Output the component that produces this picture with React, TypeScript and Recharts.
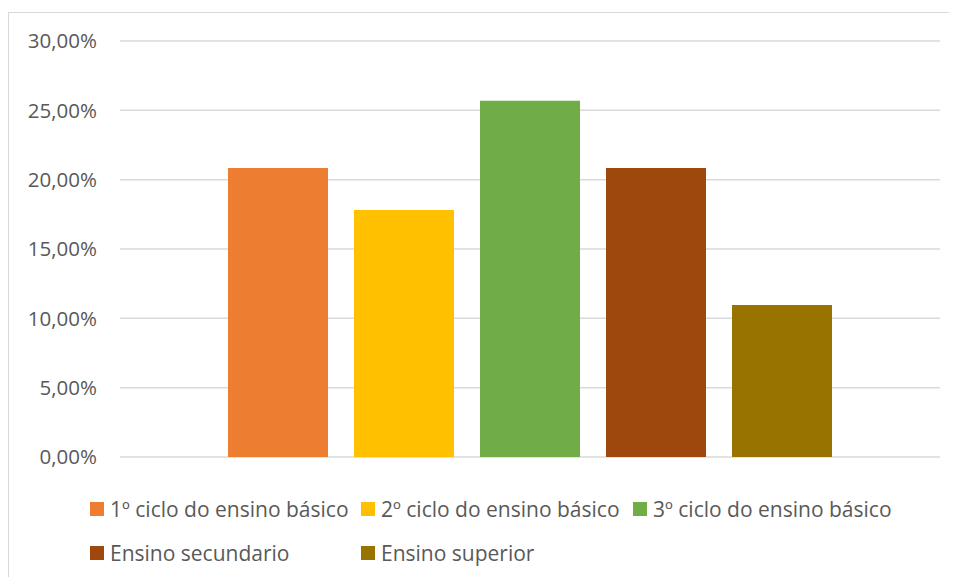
import React from "react";
import { BarChart, Bar, XAxis, YAxis, CartesianGrid } from "recharts";

const seriesNames = [
  "1º ciclo do ensino básico",
  "2º ciclo do ensino básico",
  "3º ciclo do ensino básico",
  "Ensino secundario",
  "Ensino superior",
];
const seriesValues = [20.85, 17.82, 25.69, 20.85, 10.96];
const seriesColors = ["#ED7D31", "#FFC000", "#70AD47", "#9E480E", "#997300"];
const yTicks = [0, 5, 10, 15, 20, 25, 30];

const row: Record<string, number | string> = { name: "total" };
seriesNames.forEach((n, i) => {
  row[n] = seriesValues[i];
});
const data = [row];

const FONT = "'Open Sans', sans-serif";
const TEXT = "#595959";

const fmt = (v: number) => v.toFixed(2).replace(".", ",") + "%";

const LegendBox = () => (
  <div
    style={{
      position: "absolute",
      left: 82,
      top: 475,
      display: "grid",
      gridTemplateColumns: "271px 272px auto",
      gridAutoRows: 44,
      fontFamily: FONT,
      fontSize: 21,
      color: TEXT,
    }}
  >
    {seriesNames.map((n, i) => (
      <div key={n} style={{ display: "flex", alignItems: "center", whiteSpace: "nowrap" }}>
        <span
          style={{
            display: "inline-block",
            width: 14,
            height: 14,
            background: seriesColors[i],
            marginRight: 6,
          }}
        />
        <span>{n}</span>
      </div>
    ))}
  </div>
);

export default function App() {
  return (
    <div style={{ position: "relative", width: 949, height: 565, marginTop: 4, overflow: "hidden" }}>
      <div
        style={{
          position: "absolute",
          left: 0,
          top: 0,
          width: 980,
          height: 600,
          boxSizing: "border-box",
          borderTop: "1px solid #D9D9D9",
          borderLeft: "1px solid #D9D9D9",
        }}
      />
      <div style={{ position: "absolute", left: 0, top: 0 }}>
        <BarChart
          width={949}
          height={565}
          data={data}
          margin={{ top: 29, right: 17, left: 0, bottom: 120 }}
          barGap={26}
        >
          <CartesianGrid vertical={false} stroke="#D9D9D9" strokeWidth={1.5} />
          <XAxis dataKey="name" hide />
          <YAxis
            domain={[0, 30]}
            ticks={yTicks}
            width={112}
            axisLine={false}
            tickLine={false}
            tickSize={0}
            tickMargin={23}
            tickFormatter={fmt}
            tick={{ fill: TEXT, fontSize: 20.5, fontFamily: FONT }}
          />
          {seriesNames.map((n, i) => (
            <Bar
              key={n}
              dataKey={n}
              fill={seriesColors[i]}
              barSize={100}
              isAnimationActive={false}
            />
          ))}
        </BarChart>
      </div>
      <LegendBox />
    </div>
  );
}
